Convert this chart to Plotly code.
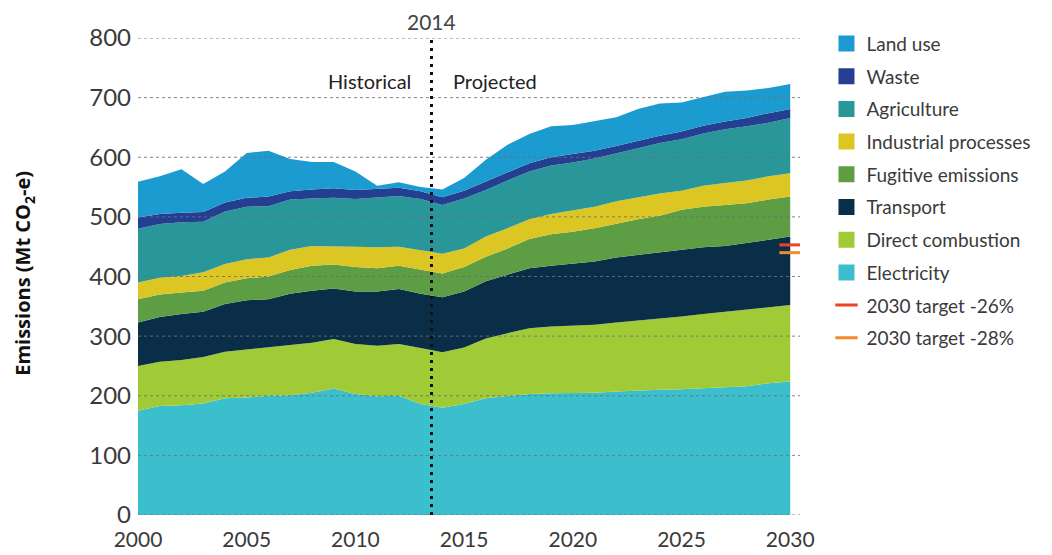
import plotly.graph_objects as go

years = list(range(2000, 2031))

electricity = [175,183,184,187,196,197,200,201,205,212,203,199,200,186,180,186,196,200,203,204,204,205,207,209,210,211,213,214,216,221,224]
direct_combustion = [75,74,76,78,78,81,81,84,84,83,84,85,87,94,93,95,100,105,110,112,113,114,116,117,120,122,124,127,128,127,128]
transport = [73,75,77,76,80,82,81,86,87,85,88,91,92,91,92,94,96,98,101,102,104,106,109,110,110,111,112,110,112,113,115]
fugitive = [39,38,36,35,36,37,38,40,42,40,41,39,39,40,40,41,41,44,49,53,54,56,57,60,62,68,68,69,67,68,67]
industrial = [28,28,28,31,31,32,32,34,33,31,34,35,32,33,33,31,34,34,33,34,36,36,37,37,37,32,35,37,38,39,39]
agriculture = [90,90,90,85,88,88,86,84,80,81,80,83,85,86,82,84,78,80,80,81,80,81,80,82,85,86,88,90,91,90,93]
waste = [19,17,16,16,15,15,16,14,15,16,15,15,14,13,13,13,14,13,14,14,15,13,13,13,12,13,13,13,14,16,15]
land_use = [60,63,73,47,52,75,77,54,46,44,31,5,9,7,13,21,37,47,49,52,48,49,48,53,54,49,48,50,46,42,42]

series_names = ["Electricity", "Direct combustion", "Transport", "Fugitive emissions",
                "Industrial processes", "Agriculture", "Waste", "Land use"]
series_values = [electricity, direct_combustion, transport, fugitive,
                 industrial, agriculture, waste, land_use]
series_colors = ["#3bbfcc", "#a0cb37", "#0a2e48", "#5d9e45",
                 "#dcc623", "#29979a", "#243f8f", "#1c9bd1"]

target_names = ["2030 target -26%", "2030 target -28%"]
target_values = [453, 440]
target_colors = ["#ec4526", "#f68a2a"]
target_x = [2029.5, 2030.6]

divider_year = 2013.5
y_ticks = [0, 100, 200, 300, 400, 500, 600, 700, 800]
x_ticks = [2000, 2005, 2010, 2015, 2020, 2025, 2030]

FONT = "Lato"

fig = go.Figure()

for name, vals, col in zip(series_names, series_values, series_colors):
    fig.add_trace(go.Scatter(
        x=years, y=vals, name=name, mode="lines", stackgroup="one",
        line=dict(width=0, color=col), fillcolor=col, showlegend=False,
    ))

for name, val, col in zip(target_names, target_values, target_colors):
    fig.add_trace(go.Scatter(
        x=target_x, y=[val, val], mode="lines", name=name,
        line=dict(color=col, width=3), showlegend=False,
    ))

# legend entries (top to bottom)
for name, col in zip(series_names[::-1], series_colors[::-1]):
    fig.add_trace(go.Scatter(
        x=[None], y=[None], mode="markers", name=name, legendgroup=name,
        marker=dict(symbol="square", size=17, color=col),
    ))
for name, col in zip(target_names, target_colors):
    fig.add_trace(go.Scatter(
        x=[None], y=[None], mode="markers", name=name, legendgroup=name,
        marker=dict(symbol="line-ew", size=19, line=dict(color=col, width=3)),
    ))

shapes = []
for t in y_ticks:
    shapes.append(dict(type="line", xref="paper", x0=0, x1=1, yref="y", y0=t, y1=t,
                       line=dict(color="rgba(110,110,110,0.85)", width=1, dash="dot"),
                       layer="above"))
shapes.append(dict(type="line", xref="x", x0=divider_year, x1=divider_year, yref="y",
                   y0=0, y1=800, line=dict(color="#111111", width=3, dash="3px,5px"),
                   layer="above"))

# page body has an 8px margin, so the figure is sized to fit the 1052x555 window
fig.update_layout(
    width=1044, height=547,
    margin=dict(l=130, r=252, t=30, b=40, autoexpand=False),
    paper_bgcolor="white", plot_bgcolor="white",
    font=dict(family=FONT, color="#444444"),
    shapes=shapes,
    showlegend=True,
    legend=dict(x=1.04, y=1.028, xanchor="left", yanchor="top",
                font=dict(family=FONT, size=19, color="#3a3a3a"),
                traceorder="grouped", tracegroupgap=5, maxheight=540,
                bgcolor="rgba(0,0,0,0)", itemwidth=30),
    xaxis=dict(range=[2000, 2030.45], tickvals=x_ticks, showgrid=False,
               zeroline=False, showline=False, ticks="",
               tickfont=dict(family=FONT, size=21, color="#3a3a3a"),
               ticklabelstandoff=10),
    yaxis=dict(range=[0, 800], tickvals=y_ticks, showgrid=False,
               zeroline=False, showline=False, ticks="",
               tickfont=dict(family=FONT, size=24, color="#3a3a3a"),
               ticklabelstandoff=6),
    annotations=[
        dict(text="Emissions (Mt CO<sub>2</sub>-e)", xref="paper", yref="paper",
             x=-0.172, y=0.506, xanchor="center", yanchor="middle",
             textangle=-90, showarrow=False,
             font=dict(family="Open Sans", size=20, color="#111111", weight="bold")),
        dict(text="2014", xref="x", yref="paper", x=divider_year, y=1.0, yshift=2,
             yanchor="bottom", showarrow=False,
             font=dict(family=FONT, size=21, color="#444444")),
        dict(text="Historical", xref="x", yref="y", x=divider_year, y=728,
             xanchor="right", xshift=-19, showarrow=False,
             font=dict(family=FONT, size=20, color="#222222")),
        dict(text="Projected", xref="x", yref="y", x=divider_year, y=728,
             xanchor="left", xshift=19, showarrow=False,
             font=dict(family=FONT, size=20, color="#222222")),
    ],
)

fig.write_html("out.html")
